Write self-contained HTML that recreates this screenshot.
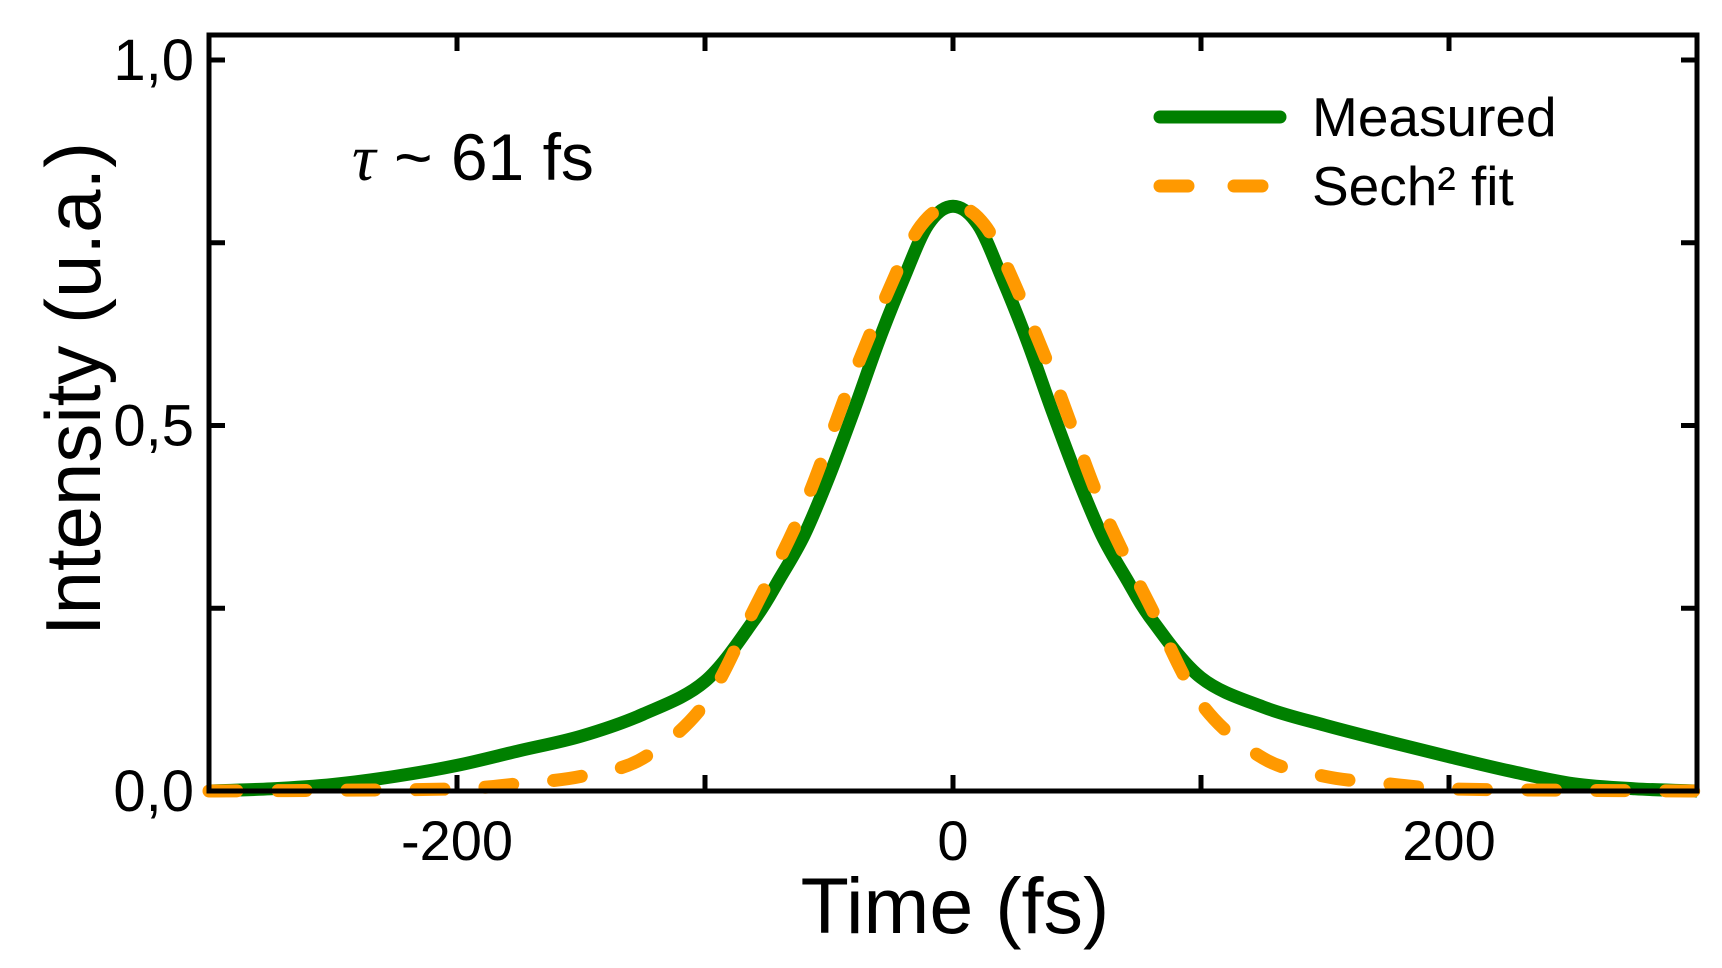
<!DOCTYPE html>
<html><head><meta charset="utf-8"><style>
body{margin:0;background:#fff}
text{font-family:"Liberation Sans",Arial,sans-serif;fill:#000}
</style></head><body>
<svg id="c" width="1722" height="963"></svg>
<script>
const measT=[-300,-275,-250,-225,-200,-175,-150,-125,-100,-80,-70,-60,-50,-40,-30,-20,-10,0,10,20,30,40,50,60,70,80,100,125,150,175,200,225,250,275,300];
const measV=[0,0.003,0.009,0.02,0.035,0.055,0.075,0.105,0.15,0.235,0.29,0.35,0.43,0.52,0.615,0.7,0.775,0.8,0.775,0.7,0.615,0.52,0.43,0.35,0.29,0.235,0.155,0.115,0.09,0.068,0.047,0.027,0.01,0.003,0];
const fitT=[-300,-250,-200,-175,-150,-125,-100,-80,-60,-40,-20,-10,0,10,20,40,60,80,100,125,150,175,200,250,300];
const fitV=[0,0.001,0.003,0.01,0.02,0.045,0.12,0.25,0.39,0.57,0.73,0.785,0.8,0.785,0.73,0.57,0.39,0.25,0.12,0.045,0.02,0.01,0.003,0.001,0];
const xTicks=[-200,0,200];
const xMinor=[-100,100];
const yTicks=[0,0.5,1.0];
const yTickLabels=["0,0","0,5","1,0"];
const yMinor=[0.25,0.75];
const NS="http://www.w3.org/2000/svg";
const svg=document.getElementById('c');
const L=209,R=1697,T=35,B=791;
const X=t=>L+(t+300)/600*(R-L);
const Y=v=>B-v*(B-60);
function el(tag,a,txt){const e=document.createElementNS(NS,tag);for(const k in a)e.setAttribute(k,a[k]);if(txt!=null)e.textContent=txt;svg.appendChild(e);return e;}
function smooth(ts,vs){let d='M'+X(ts[0])+','+Y(vs[0]);const p=ts.map((t,i)=>[X(t),Y(vs[i])]);for(let i=0;i<p.length-1;i++){const p0=p[i-1]||p[i],p1=p[i],p2=p[i+1],p3=p[i+2]||p2;d+=`C${p1[0]+(p2[0]-p0[0])/6},${p1[1]+(p2[1]-p0[1])/6} ${p2[0]-(p3[0]-p1[0])/6},${p2[1]-(p3[1]-p1[1])/6} ${p2[0]},${p2[1]}`;}return d;}
let e;
e=el('path',{d:smooth(measT,measV),fill:'none',stroke:'#008000','stroke-width':13,'stroke-linejoin':'round'});


e=el('path',{d:smooth(fitT,fitV),fill:'none',stroke:'#ff9900','stroke-width':13,'stroke-dasharray':'28 41','stroke-linecap':'round'});


e=el('rect',{x:L,y:T,width:R-L,height:B-T,fill:'none',stroke:'#000','stroke-width':5});


xTicks.concat(xMinor).forEach(t=>{
 e=el('line',{x1:X(t),x2:X(t),y1:B,y2:B-16,stroke:'#000','stroke-width':5});
 
 
 e=el('line',{x1:X(t),x2:X(t),y1:T,y2:T+16,stroke:'#000','stroke-width':5});
 
 
});
xTicks.forEach(t=>{
 e=el('text',{x:X(t),y:860,'font-size':56,'text-anchor':'middle'},String(t));
 
 
});
yTicks.concat(yMinor).forEach(v=>{
 e=el('line',{x1:L,x2:L+16,y1:Y(v),y2:Y(v),stroke:'#000','stroke-width':5});
 
 
 e=el('line',{x1:R,x2:R-16,y1:Y(v),y2:Y(v),stroke:'#000','stroke-width':5});
 
 
});
yTicks.forEach((v,i)=>{
 e=el('text',{x:194,y:Y(v)+20,'font-size':58,'text-anchor':'end'},yTickLabels[i]);
 
 
});
e=el('text',{x:955,y:933,'font-size':79,'text-anchor':'middle'},'Time (fs)');


e=el('text',{x:0,y:0,'font-size':78,'text-anchor':'middle',transform:'translate(100,389) rotate(-90)'},'Intensity (u.a.)');


e=el('text',{x:352,y:180,'font-size':66},'');


const ts=document.createElementNS(NS,'tspan');ts.setAttribute('font-family','"Liberation Serif",serif');ts.setAttribute('font-style','italic');ts.textContent='τ';e.appendChild(ts);
const ts2=document.createElementNS(NS,'tspan');ts2.textContent=' ~ 61 fs';e.appendChild(ts2);
e=el('line',{x1:1160,x2:1280,y1:117,y2:117,stroke:'#008000','stroke-width':13,'stroke-linecap':'round'});


e=el('text',{x:1312,y:136,'font-size':55},'Measured');


e=el('line',{x1:1160,x2:1280,y1:186,y2:186,stroke:'#ff9900','stroke-width':13,'stroke-linecap':'round','stroke-dasharray':'28 46'});


e=el('text',{x:1312,y:205,'font-size':55},'Sech² fit');


</script>
</body></html>
